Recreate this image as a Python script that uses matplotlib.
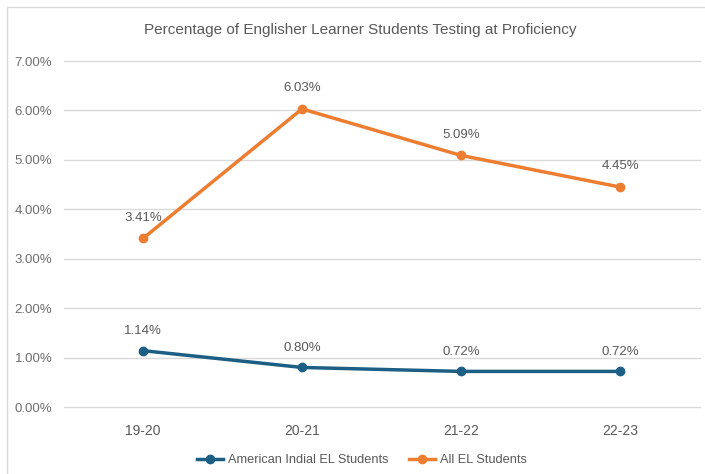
import matplotlib
matplotlib.use('Agg')
import matplotlib.pyplot as plt
from matplotlib.patches import Rectangle
from matplotlib.ticker import FuncFormatter

years = ['19-20', '20-21', '21-22', '22-23']
american_indian = [1.14, 0.80, 0.72, 0.72]
all_el = [3.41, 6.03, 5.09, 4.45]

sans = ['Liberation Sans', 'DejaVu Sans']
grey = '#595959'

fig = plt.figure(figsize=(7.05, 4.74), dpi=100)
fig.patches.append(Rectangle((7 / 705, -0.01), 1.0, 1 - 7 / 474 + 0.01,
                             transform=fig.transFigure, fill=False,
                             edgecolor='#d9d9d9', linewidth=1))
ax = fig.add_axes([63.5 / 705, 1 - 407 / 474, 636 / 705, 346 / 474])

x = list(range(len(years)))
ax.plot(x, american_indian, '-o', color='#1d5f84', lw=2.5, ms=6,
        label='American Indial EL Students')
ax.plot(x, all_el, '-o', color='#ed7d31', lw=2.5, ms=6,
        label='All EL Students')

for xi, v in zip(x, american_indian):
    ax.annotate(f'{v:.2f}%', (xi, v), xytext=(0, 14), textcoords='offset points',
                ha='center', va='center', fontsize=9.5, color=grey, family=sans)
for xi, v in zip(x, all_el):
    ax.annotate(f'{v:.2f}%', (xi, v), xytext=(0, 15), textcoords='offset points',
                ha='center', va='center', fontsize=9.5, color=grey, family=sans)

ax.set_xlim(-0.5, 3.5)
ax.set_ylim(0, 7)
ax.set_yticks(range(8))
ax.yaxis.set_major_formatter(FuncFormatter(lambda v, p: f'{v:.2f}%'))
ax.set_xticks(x)
ax.set_xticklabels(years, family=sans, fontsize=10, color=grey)
for lab in ax.get_yticklabels():
    lab.set_fontsize(9.5)
    lab.set_color('#6e6e6e')
    lab.set_family(sans)
ax.tick_params(length=0, pad=8)
ax.tick_params(axis='x', pad=12)
ax.grid(axis='y', color='#d9d9d9', lw=1)
for gl in ax.get_ygridlines():
    gl.set_clip_on(False)
ax.set_axisbelow(True)
for s in ax.spines.values():
    s.set_visible(False)

fig.text(360 / 705, 1 - 30 / 474, 'Percentage of Englisher Learner Students Testing at Proficiency',
         ha='center', va='center', fontsize=11, color=grey, family=sans)

fig.legend(loc='center', bbox_to_anchor=(362 / 705, 1 - 460 / 474), ncol=2, frameon=False,
           prop={'family': 'Liberation Sans', 'size': 9.2}, labelcolor=grey,
           handlelength=2.0, handletextpad=0.4, columnspacing=1.6)

fig.savefig('out.png', dpi=100)
